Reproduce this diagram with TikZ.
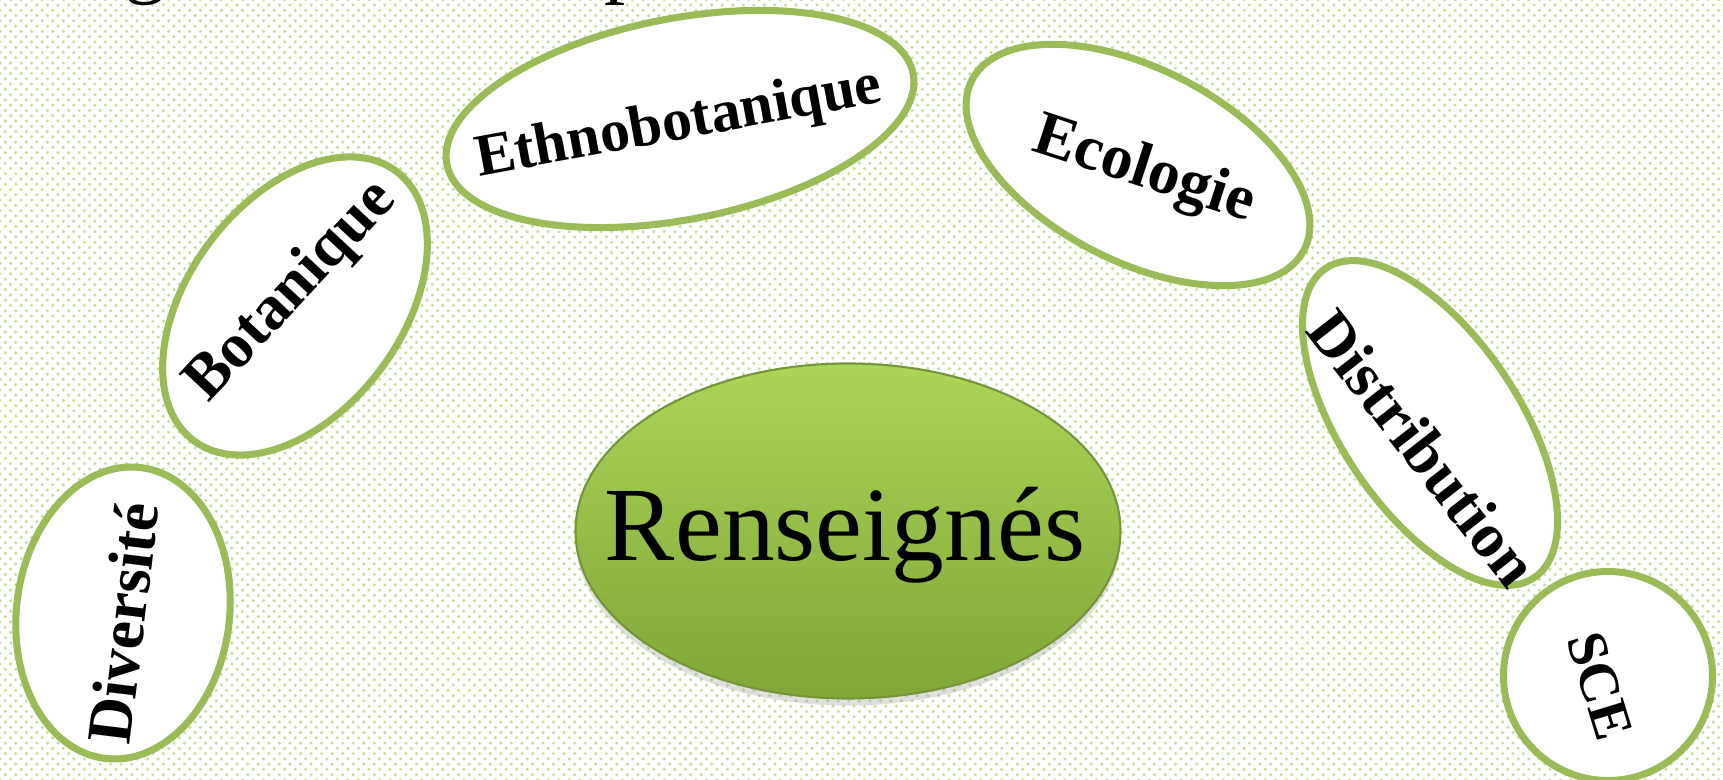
\documentclass[tikz,border=0pt]{standalone}
\usepackage{fontspec}
\setmainfont{Liberation Serif}
\usepackage{tikz}
\usetikzlibrary{shapes.geometric,patterns,shadows}
\definecolor{leaf}{RGB}{155,187,89}
\definecolor{dotgreen}{RGB}{200,224,158}
\definecolor{limetop}{RGB}{172,212,88}
\definecolor{limebot}{RGB}{128,166,56}
\definecolor{limeedge}{RGB}{118,148,58}
\tikzstyle{none}=[inner sep=0pt]
\tikzstyle{bubble}=[ellipse,draw=leaf,fill=white,line width=2pt,inner sep=0pt]
\tikzstyle{word}=[inner sep=0pt,font=\bfseries\fontsize{18}{20}\selectfont]
\tikzstyle{core}=[ellipse,draw=limeedge,line width=0.6pt,top color=limetop,bottom color=limebot,inner sep=0pt,drop shadow={opacity=0.25,shadow xshift=0pt,shadow yshift=-2pt}]

\begin{document}
\begin{tikzpicture}
 \useasboundingbox (0,0) rectangle (17.23,7.8);
 \fill [white] (0,0) rectangle (17.23,7.8);
 \fill [pattern=crosshatch dots,pattern color=dotgreen] (0,0) rectangle (17.23,7.8);
 \node [style=none,anchor=base,font=\fontsize{24}{26}\selectfont] (0) at (1.46, 7.92) {g};
 \node [style=none,anchor=base,font=\fontsize{24}{26}\selectfont] (1) at (6.26, 7.92) {p};
 \node [style=bubble,rotate=83,minimum width=2.93cm,minimum height=2.13cm] (2) at (1.23, 1.67) {};
 \node [style=bubble,rotate=53,minimum width=3.37cm,minimum height=2.13cm] (3) at (2.95, 4.74) {};
 \node [style=bubble,rotate=11,minimum width=4.75cm,minimum height=2.01cm] (4) at (6.80, 6.61) {};
 \node [style=bubble,rotate=-27,minimum width=3.73cm,minimum height=1.93cm] (5) at (11.38, 6.15) {};
 \node [style=bubble,rotate=-56,minimum width=3.73cm,minimum height=1.77cm] (6) at (14.30, 3.57) {};
 \node [style=bubble,circle,minimum size=2.09cm] (7) at (16.08, 1.04) {};
 \node [style=core,minimum width=5.45cm,minimum height=3.35cm] (8) at (8.48, 2.49) {};
 \node [style=word,rotate=83] (9) at (1.23, 1.57) {Diversité};
 \node [style=word,rotate=47] (10) at (2.92, 4.88) {Botanique};
 \node [style=word,rotate=10.5,font=\bfseries\fontsize{17}{20}\selectfont] (11) at (6.79, 6.55) {Ethnobotanique};
 \node [style=word,rotate=-18] (12) at (11.44, 6.08) {Ecologie};
 \node [style=word,rotate=-52] (13) at (14.23, 3.32) {Distribution};
 \node [style=word,rotate=-73,font=\bfseries\fontsize{16}{18}\selectfont] (14) at (16.00, 0.94) {SCE};
 \node [style=none,font=\fontsize{30}{34}\selectfont] (15) at (8.45, 2.45) {Renseignés};
\end{tikzpicture}
\end{document}
